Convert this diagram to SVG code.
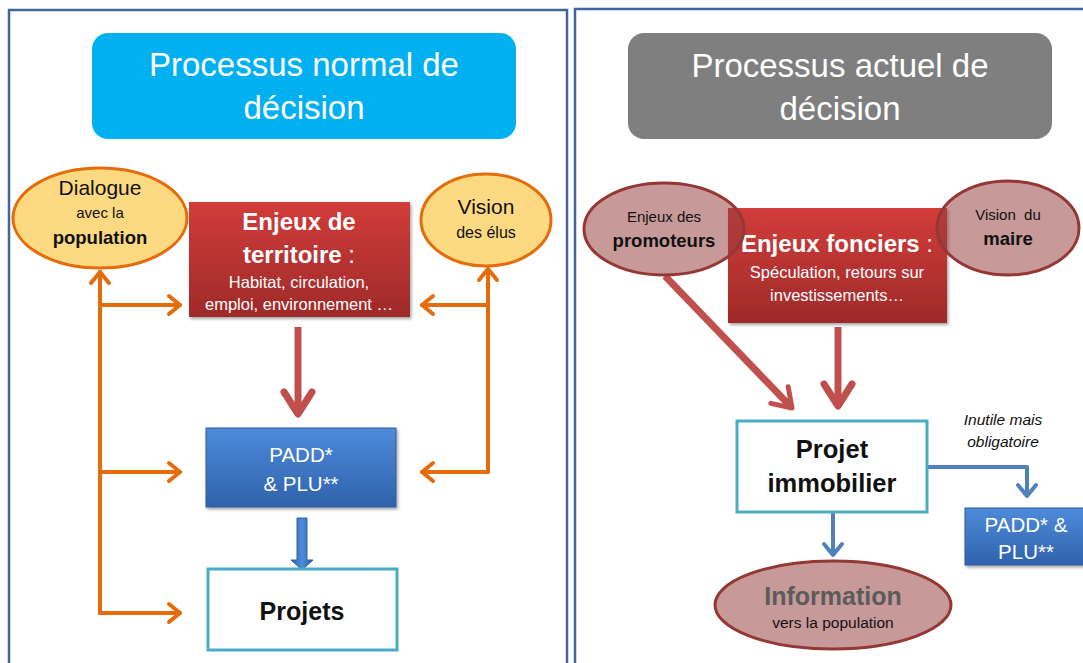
<svg xmlns="http://www.w3.org/2000/svg" width="1083" height="663" viewBox="0 0 1083 663">
<defs>
<style>
text{font-family:"Liberation Sans",Arial,sans-serif;text-anchor:middle}
.w{fill:#ffffff}
.k{fill:#111111}
.b{font-weight:bold}
.panel{fill:none;stroke:#41669a;stroke-width:2.5}
.yel{fill:#fdd981;stroke:#e46c0a;stroke-width:3}
.ros{fill:#963c3c;fill-opacity:0.52;stroke:#953735;stroke-width:3}
.wbox{fill:#ffffff;stroke:#4bacc6;stroke-width:3}
.or{fill:none;stroke:#e46c0a;stroke-width:4;stroke-linecap:round;stroke-linejoin:round}
.rd{fill:none;stroke:#c0504d;stroke-width:7}
.bl{fill:none;stroke:#4f81bd;stroke-width:4;stroke-linejoin:round}
</style>
<linearGradient id="gRed" x1="0" y1="0" x2="0" y2="1"><stop offset="0" stop-color="#d23c3a"/><stop offset="1" stop-color="#9e2a29"/></linearGradient>
<linearGradient id="gBlue" x1="0" y1="0" x2="0" y2="1"><stop offset="0" stop-color="#4e8bdb"/><stop offset="1" stop-color="#2f62ab"/></linearGradient>
<linearGradient id="gBA" x1="0" y1="0" x2="1" y2="0"><stop offset="0" stop-color="#2f62ab"/><stop offset="0.5" stop-color="#4e8bdb"/><stop offset="1" stop-color="#2f62ab"/></linearGradient>
<filter id="sh" x="-10%" y="-10%" width="125%" height="130%"><feDropShadow dx="1.5" dy="2" stdDeviation="1.5" flood-color="#000" flood-opacity="0.35"/></filter>
<marker id="ao" markerUnits="userSpaceOnUse" viewBox="-20 -15 30 30" refX="0" refY="0" markerWidth="30" markerHeight="30" orient="auto"><path d="M-11,-9 L0,0 L-11,9" fill="none" stroke="#e46c0a" stroke-width="4" stroke-linecap="round" stroke-linejoin="round"/></marker>
<marker id="ar" markerUnits="userSpaceOnUse" viewBox="-30 -20 40 40" refX="0" refY="0" markerWidth="40" markerHeight="40" orient="auto"><path d="M-22,-14 L0,0 L-22,14" fill="none" stroke="#c0504d" stroke-width="7" stroke-linecap="round" stroke-linejoin="round"/></marker>
<marker id="ar2" markerUnits="userSpaceOnUse" viewBox="-30 -20 40 40" refX="0" refY="0" markerWidth="40" markerHeight="40" orient="auto"><path d="M-18,-12 L0,0 L-18,12" fill="none" stroke="#c0504d" stroke-width="5" stroke-linecap="round" stroke-linejoin="round"/></marker>
<marker id="ab" markerUnits="userSpaceOnUse" viewBox="-20 -15 30 30" refX="0" refY="0" markerWidth="30" markerHeight="30" orient="auto"><path d="M-11,-9 L0,0 L-11,9" fill="none" stroke="#4f81bd" stroke-width="4" stroke-linecap="round" stroke-linejoin="round"/></marker>
</defs>
<rect width="1083" height="663" fill="#ffffff"/>
<g id="panels">
<rect class="panel" x="9" y="10" width="558" height="680"/>
<rect class="panel" x="575" y="9" width="530" height="680"/>
</g>
<g id="title-normal">
<rect x="92" y="33" width="424" height="106" rx="16" fill="#00b0f0"/>
<text class="w" x="304" y="76" font-size="33">Processus normal de</text>
<text class="w" x="304" y="119" font-size="33">décision</text>
</g>
<g id="title-actuel">
<rect x="628" y="33" width="424" height="106" rx="16" fill="#7f7f7f"/>
<text class="w" x="840" y="77" font-size="33">Processus actuel de</text>
<text class="w" x="840" y="120" font-size="33">décision</text>
</g>
<g id="connectors">
<path class="or" d="M100,613 V272" marker-end="url(#ao)"/>
<path class="or" d="M100,305 H180" marker-end="url(#ao)"/>
<path class="or" d="M100,472 H180" marker-end="url(#ao)"/>
<path class="or" d="M100,613 H180" marker-end="url(#ao)"/>
<path class="or" d="M488,472 V269" marker-end="url(#ao)"/>
<path class="or" d="M488,305 H422" marker-end="url(#ao)"/>
<path class="or" d="M488,472 H422" marker-end="url(#ao)"/>
<path class="rd" d="M298,327 V414" marker-end="url(#ar)"/>
<path class="rd" d="M838,327 V406" marker-end="url(#ar)"/>
<path class="rd" d="M665,276 L792,408" stroke-width="5" marker-end="url(#ar2)"/>
<polygon points="297,518 307,518 307,560 313,560 302,570 291,560 297,560" fill="url(#gBA)" stroke="#2f62ab" stroke-width="1"/>
<path class="bl" d="M833,513 V555" marker-end="url(#ab)"/>
<path class="bl" d="M927,467 H1027 V496" marker-end="url(#ab)"/>
</g>
<g id="dialogue">
<ellipse class="yel" cx="100" cy="218" rx="87" ry="50"/>
<text class="k" x="100" y="195" font-size="21">Dialogue</text>
<text class="k" x="100" y="218" font-size="15">avec la</text>
<text class="k b" x="100" y="244" font-size="18.5">population</text>
</g>
<g id="enjeux-territoire">
<rect x="189" y="202" width="221" height="115" fill="url(#gRed)" filter="url(#sh)"/>
<text class="w b" x="299" y="230" font-size="24">Enjeux de</text>
<text class="w" x="299" y="263" font-size="24"><tspan class="b">territoire</tspan> :</text>
<text class="w" x="299" y="288" font-size="16.5">Habitat, circulation,</text>
<text class="w" x="299" y="310" font-size="16.5">emploi, environnement …</text>
</g>
<g id="vision-elus">
<ellipse class="yel" cx="486" cy="220" rx="65" ry="46"/>
<text class="k" x="486" y="214" font-size="21">Vision</text>
<text class="k" x="486" y="238" font-size="16">des élus</text>
</g>
<g id="padd-plu">
<rect x="206" y="428" width="190" height="79" fill="url(#gBlue)" stroke="#2c5d9f" stroke-width="1" filter="url(#sh)"/>
<text class="w" x="301" y="462" font-size="20.5">PADD*</text>
<text class="w" x="301" y="491" font-size="20.5">&amp; PLU**</text>
</g>
<g id="projets">
<rect class="wbox" x="208" y="569" width="189" height="81"/>
<text class="k b" x="302" y="620" font-size="25">Projets</text>
</g>
<g id="enjeux-fonciers">
<rect x="728" y="208" width="219" height="115" fill="url(#gRed)" filter="url(#sh)"/>
<text class="w" x="837" y="252" font-size="24"><tspan class="b">Enjeux fonciers</tspan> :</text>
<text class="w" x="837" y="278" font-size="16.5">Spéculation, retours sur</text>
<text class="w" x="837" y="301" font-size="16.5">investissements…</text>
</g>
<g id="promoteurs">
<ellipse class="ros" cx="664" cy="229" rx="80" ry="46"/>
<text class="k" x="664" y="222" font-size="15">Enjeux des</text>
<text class="k b" x="664" y="247" font-size="18.5">promoteurs</text>
</g>
<g id="vision-maire">
<ellipse class="ros" cx="1008" cy="228" rx="71" ry="47"/>
<text class="k" x="1008" y="220" font-size="15" xml:space="preserve">Vision  du</text>
<text class="k b" x="1008" y="245" font-size="18.5">maire</text>
</g>
<g id="projet-immobilier">
<rect class="wbox" x="737" y="421" width="190" height="91"/>
<text class="k b" x="832" y="458" font-size="25.5">Projet</text>
<text class="k b" x="832" y="492" font-size="25.5">immobilier</text>
</g>
<g id="note">
<text class="k" x="1003" y="425" font-size="15.5" font-style="italic">Inutile mais</text>
<text class="k" x="1003" y="447" font-size="15.5" font-style="italic">obligatoire</text>
</g>
<g id="padd-plu-2">
<rect x="965" y="508" width="125" height="57" fill="url(#gBlue)" stroke="#2c5d9f" stroke-width="1" filter="url(#sh)"/>
<text class="w" x="1026" y="532" font-size="20.5">PADD* &amp;</text>
<text class="w" x="1026" y="559" font-size="20.5">PLU**</text>
</g>
<g id="information">
<ellipse class="ros" cx="833" cy="605" rx="118" ry="44"/>
<text class="b" x="833" y="605" font-size="25" fill="#5b5b5b">Information</text>
<text class="k" x="833" y="628" font-size="15.5">vers la population</text>
</g>
</svg>
